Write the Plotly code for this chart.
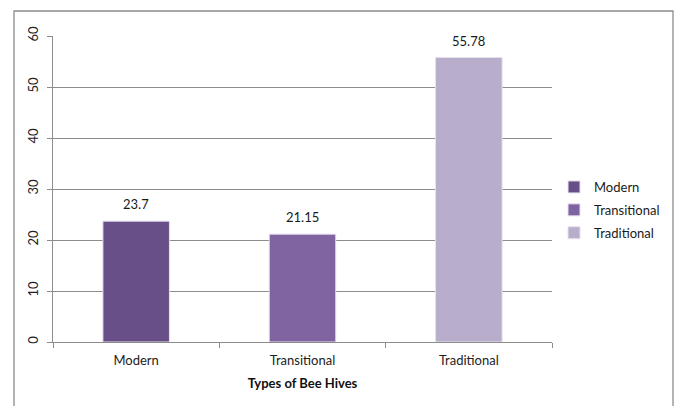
import plotly.graph_objects as go

categories = ["Modern", "Transitional", "Traditional"]
values = [23.7, 21.15, 55.78]
colors = ["#684F87", "#8064A2", "#B8ADCA"]
y_ticks = [0, 10, 20, 30, 40, 50, 60]
x_title = "Types of Bee Hives"

FONT = "Lato"
fig = go.Figure()
for cat, val, col in zip(categories, values, colors):
    fig.add_trace(go.Bar(
        x=[cat], y=[val], name=cat, legendgroup=cat,
        marker=dict(color=col, line=dict(color="#E6E0EE", width=1)),
        width=0.4, offsetgroup="a",
    ))
    fig.add_annotation(
        x=cat, y=val, text=str(val), showarrow=False,
        yanchor="bottom", yshift=7,
        font=dict(family=FONT, size=13, color="#1a1a1a"),
    )

L, R, T, B = 53, 124, 36, 64
W, H = 676, 406
pw, ph = W - L - R, H - T - B
fig.add_shape(
    type="rect", xref="paper", yref="paper",
    x0=(14 - L) / pw, x1=(673 - L) / pw,
    y0=(H - B - 412) / ph, y1=(H - B - 11) / ph,
    line=dict(color="#8C8C8C", width=1.3), fillcolor="rgba(0,0,0,0)", layer="below",
)

fig.update_layout(
    width=W, height=H,
    margin=dict(l=L, r=R, t=T, b=B, autoexpand=False),
    paper_bgcolor="white", plot_bgcolor="white",
    bargap=0.6,
    font=dict(family=FONT, size=13, color="#222222"),
    legend=dict(
        xref="container", yref="container",
        x=554 / W, xanchor="left", y=1 - 210 / H, yanchor="middle",
        font=dict(family=FONT, size=13, color="#1a1a1a"),
        itemwidth=30, tracegroupgap=3, bgcolor="rgba(0,0,0,0)",
    ),
    showlegend=True,
)
fig.update_xaxes(
    type="category", categoryorder="array", categoryarray=categories,
    showline=True, linecolor="#8C8C8C", linewidth=1,
    ticks="outside", tickson="boundaries", ticklen=5, tickcolor="#8C8C8C",
    tickfont=dict(family=FONT, size=13, color="#222222"),
    ticklabelstandoff=6,
    title=dict(text="<b>" + x_title + "</b>", font=dict(family=FONT, size=13, color="#111111"), standoff=12),
    showgrid=False, automargin=False,
)
fig.update_yaxes(
    range=[0, 60], tickvals=y_ticks, ticktext=[str(v) for v in y_ticks],
    showline=True, linecolor="#8C8C8C", linewidth=1,
    ticks="outside", ticklen=5, tickcolor="#8C8C8C",
    showgrid=True, gridcolor="#8C8C8C", gridwidth=1,
    tickangle=-90, ticklabelstandoff=4,
    tickfont=dict(family=FONT, size=13, color="#222222"),
    zeroline=False, automargin=False,
)
fig.write_html("out.html")
